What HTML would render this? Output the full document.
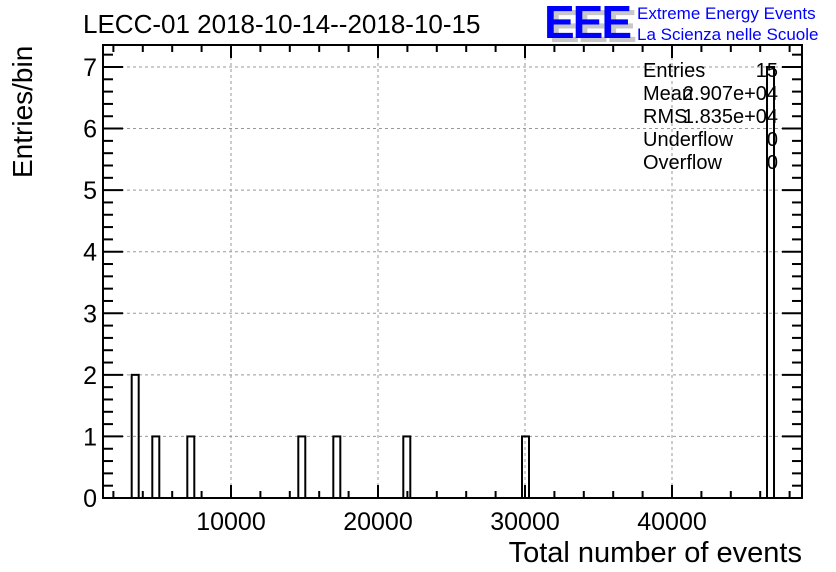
<!DOCTYPE html>
<html><head><meta charset="utf-8"><style>
html,body{margin:0;padding:0;background:#fff}
svg{display:block;font-family:"Liberation Sans",Arial,sans-serif}
</style></head><body>
<svg id="chart" width="836" height="572" viewBox="0 0 836 572">
<text x="83" y="33" font-size="26">LECC-01 2018-10-14--2018-10-15</text>
<g>
<text x="549" y="42" font-size="46" font-weight="bold" fill="#c8c8c8" letter-spacing="-2">EEE</text>
<text x="544" y="38" font-size="46" font-weight="bold" fill="#0000ff" letter-spacing="-2">EEE</text>
<text x="637" y="19" font-size="17" fill="#0000ff">Extreme Energy Events</text>
<text x="637" y="40" font-size="17" fill="#0000ff">La Scienza nelle Scuole</text>
</g>
<g id="grid"></g>
<g id="bars"></g>
<g id="axes"></g>
<rect x="103" y="45" width="699" height="453" fill="none" stroke="#000" stroke-width="2"/>
<text transform="translate(32,178) rotate(-90)" font-size="28">Entries/bin</text>
<text x="802" y="562" font-size="29" text-anchor="end">Total number of events</text>
<g font-size="20">
<text x="643" y="77">Entries</text><text x="778" y="77" text-anchor="end">15</text>
<text x="643" y="100">Mean</text><text x="778" y="100" text-anchor="end">2.907e+04</text>
<text x="643" y="123">RMS</text><text x="778" y="123" text-anchor="end">1.835e+04</text>
<text x="643" y="146">Underflow</text><text x="778" y="146" text-anchor="end">0</text>
<text x="643" y="169">Overflow</text><text x="778" y="169" text-anchor="end">0</text>
</g>
</svg>
<script>
const binLows = [3245, 4647, 7028, 14578, 16960, 21721, 29796, 46463];
const counts = [2, 1, 1, 1, 1, 1, 1, 7];
const binWidth = 476;
const xTicks = [10000, 20000, 30000, 40000];
const xTickLabels = ["10000", "20000", "30000", "40000"];
const yTicks = [0, 1, 2, 3, 4, 5, 6, 7];
const yTickLabels = ["0", "1", "2", "3", "4", "5", "6", "7"];
const X0 = 103, X1 = 802, Y0 = 498, Y1 = 45;
const xMin = 1293, xMax = 48843, yMin = 0, yMax = 7.357;
const sx = v => X0 + (v - xMin) / (xMax - xMin) * (X1 - X0);
const sy = v => Y0 - (v - yMin) / (yMax - yMin) * (Y0 - Y1);
const NS = "http://www.w3.org/2000/svg";
function mk(tag, attrs, parent) { const e = document.createElementNS(NS, tag); for (const k in attrs) e.setAttribute(k, attrs[k]); parent.appendChild(e); return e; }
const grid = document.getElementById('grid'), bars = document.getElementById('bars'), axes = document.getElementById('axes');
xTicks.forEach((t, i) => {
  const l = mk('line', {x1: sx(t), x2: sx(t), y1: Y0, y2: Y1, stroke: '#999', 'stroke-dasharray': '3,3', 'stroke-width': 1}, grid);
  
  
  const tx = mk('text', {x: sx(t), y: 530, 'font-size': 25, 'text-anchor': 'middle'}, axes);
  tx.textContent = xTickLabels[i];
  
  
});
yTicks.forEach((t, i) => {
  if (t > 0) {
    const l = mk('line', {x1: X0, x2: X1, y1: sy(t), y2: sy(t), stroke: '#999', 'stroke-dasharray': '3,3', 'stroke-width': 1}, grid);
    
    
  }
  const tx = mk('text', {x: 97, y: sy(t) + 9, 'font-size': 25, 'text-anchor': 'end'}, axes);
  tx.textContent = yTickLabels[i];
  
  
});
for (let v = 2000; v < xMax; v += 2000) {
  const len = v % 10000 === 0 ? 13 : 7;
  mk('line', {x1: sx(v), x2: sx(v), y1: Y0, y2: Y0 - len, stroke: '#000', 'stroke-width': 2}, axes);
  mk('line', {x1: sx(v), x2: sx(v), y1: Y1, y2: Y1 + len, stroke: '#000', 'stroke-width': 2}, axes);
}
for (let k = 0; k <= 36; k++) {
  const v = k * 0.2, len = k % 5 === 0 ? 20 : 10;
  mk('line', {x1: X0, x2: X0 + len, y1: sy(v), y2: sy(v), stroke: '#000', 'stroke-width': 2}, axes);
  mk('line', {x1: X1, x2: X1 - len, y1: sy(v), y2: sy(v), stroke: '#000', 'stroke-width': 2}, axes);
}
binLows.forEach((b, i) => {
  const r = mk('rect', {x: sx(b), y: sy(counts[i]), width: sx(b + binWidth) - sx(b), height: sy(0) - sy(counts[i]), fill: 'none', stroke: '#000', 'stroke-width': 2}, bars);
  
  
});
</script>
</body></html>
